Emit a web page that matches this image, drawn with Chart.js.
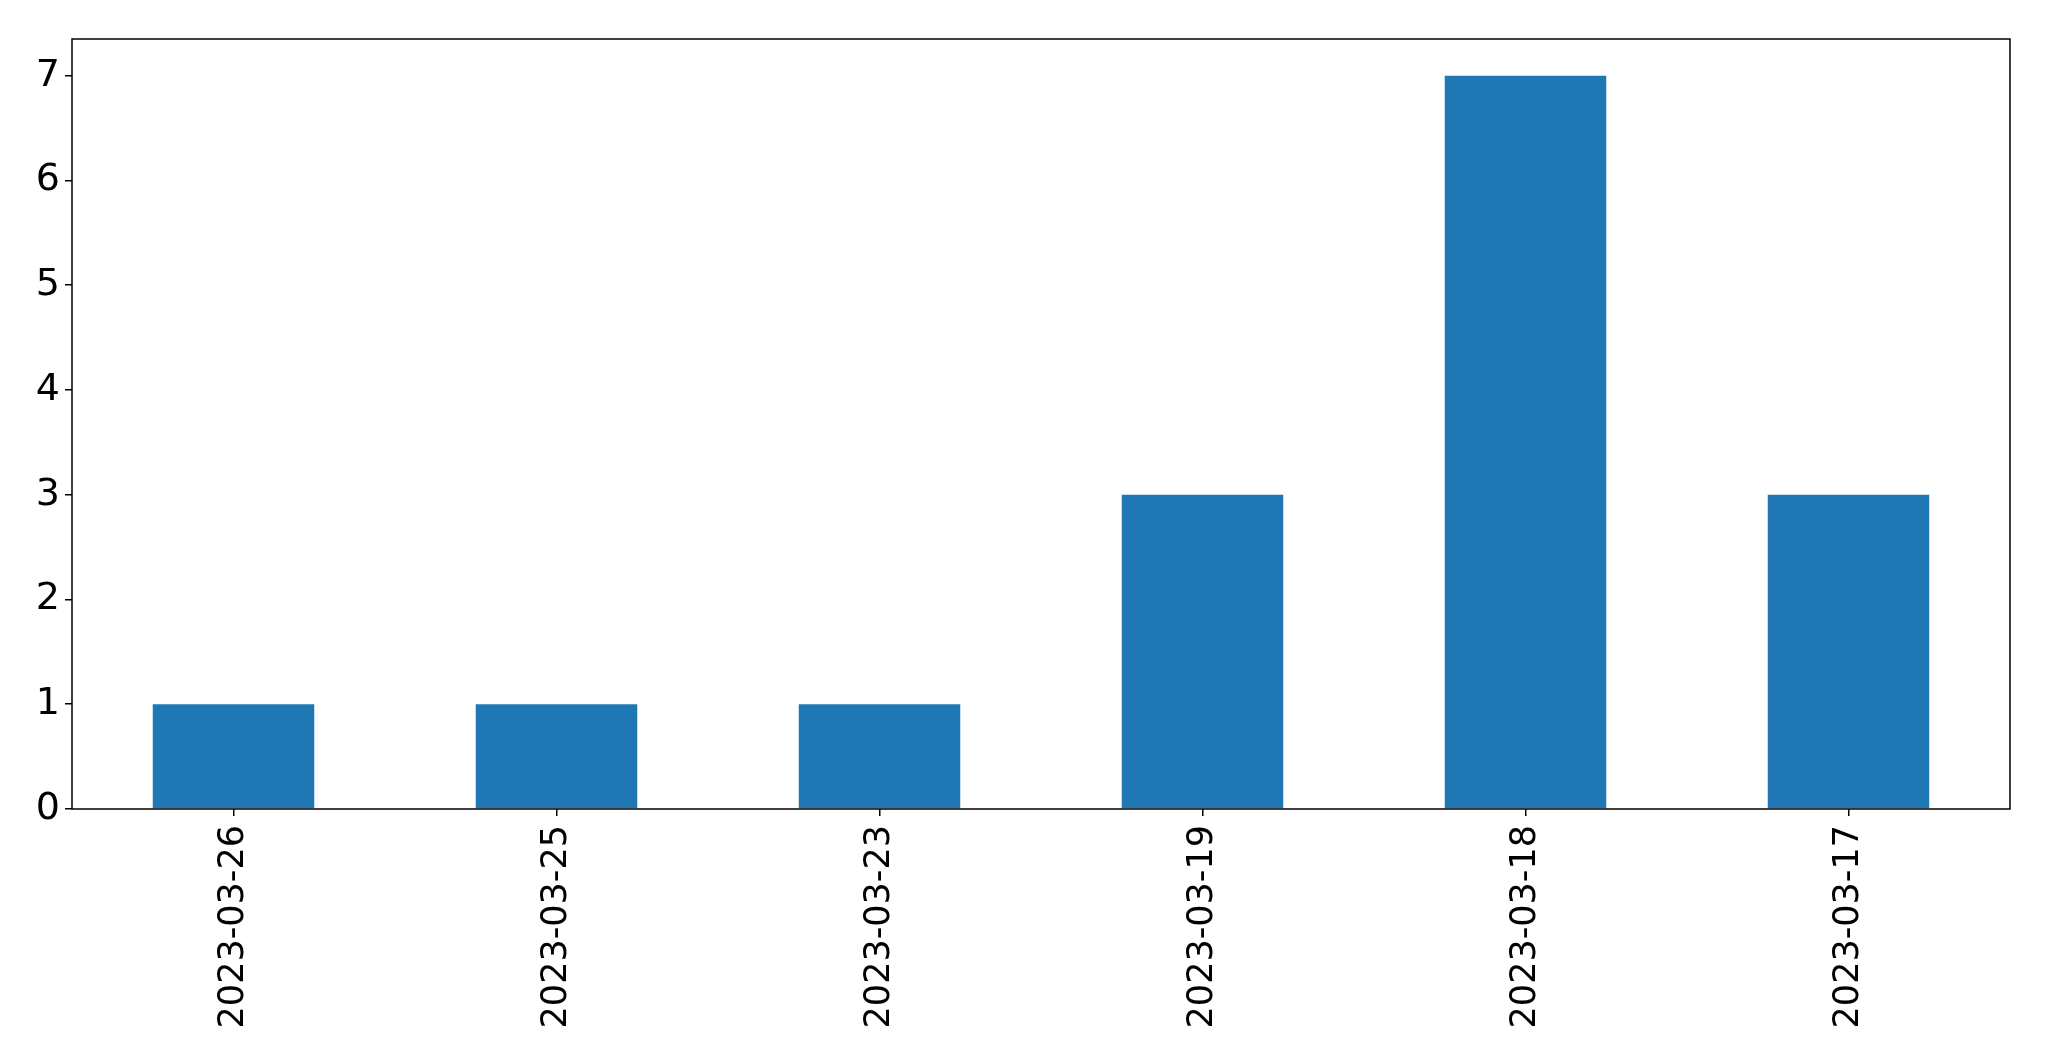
<!DOCTYPE html>
<html>
<head>
<meta charset="utf-8">
<style>
  html, body { margin: 0; padding: 0; background: #fff; }
  #wrap { width: 2049px; height: 1061px; }
</style>
<script src="https://cdn.jsdelivr.net/npm/chart.js@4/dist/chart.umd.min.js"></script>
</head>
<body>
<div id="wrap"><canvas id="countChart" width="2049" height="1061"></canvas></div>
<script>
// Data
const dates = ['2023-03-26', '2023-03-25', '2023-03-23', '2023-03-19', '2023-03-18', '2023-03-17'];
const counts = [1, 1, 1, 3, 7, 3];
const yTicks = [0, 1, 2, 3, 4, 5, 6, 7];

// Draws the box around the plot area, like matplotlib's spines
const frame = {
  id: 'frame',
  afterDraw(chart) {
    const { ctx, chartArea: a } = chart;
    ctx.save();
    ctx.strokeStyle = '#000';
    ctx.lineWidth = 1.5;
    ctx.strokeRect(a.left, a.top, a.right - a.left, a.bottom - a.top);
    ctx.restore();
  }
};

new Chart(document.getElementById('countChart'), {
  type: 'bar',
  data: {
    labels: dates,
    datasets: [{
      data: counts,
      backgroundColor: '#1f77b4',
      borderWidth: 0,
      categoryPercentage: 1.0,
      barPercentage: 0.5
    }]
  },
  options: {
    responsive: false,
    animation: false,
    layout: { padding: { top: 39, right: 39, left: 0, bottom: 0 } },
    plugins: { legend: { display: false }, tooltip: { enabled: false } },
    scales: {
      x: {
        grid: { drawOnChartArea: false, offset: false, color: '#000', tickLength: 7, lineWidth: 1.5 },
        border: { display: false },
        ticks: {
          color: '#000',
          font: { family: 'DejaVu Sans', size: 35 },
          minRotation: 90,
          maxRotation: 90,
          padding: 9
        },
        afterFit(scale) { scale.height = 252; }
      },
      y: {
        min: 0,
        max: 7.35,
        grid: { drawOnChartArea: false, color: '#000', tickLength: 7, lineWidth: 1.5 },
        border: { display: false },
        ticks: {
          color: '#000',
          font: { family: 'DejaVu Sans', size: 38 },
          padding: 5
        },
        afterBuildTicks(scale) {
          scale.ticks = yTicks.map(v => ({ value: v }));
        },
        afterFit(scale) { scale.width = 72; }
      }
    }
  },
  plugins: [frame]
});
</script>
</body>
</html>
